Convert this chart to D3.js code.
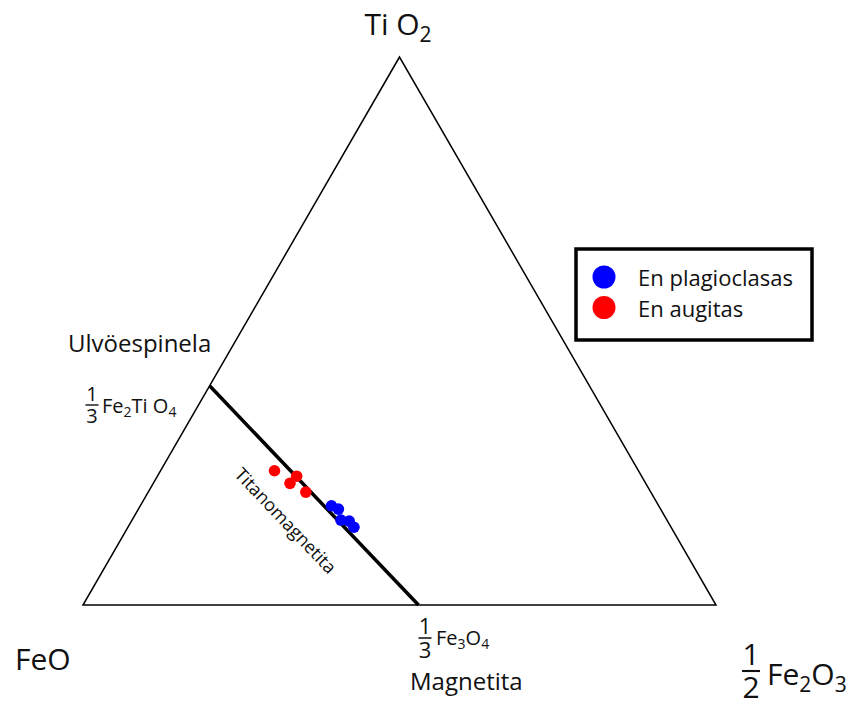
<!DOCTYPE html>
<html>
<head>
<meta charset="utf-8">
<script src="https://cdn.jsdelivr.net/npm/d3@7"></script>
<style>
	body { margin: 0; background: #fff; }
	text { font-family: "Open Sans", sans-serif; fill: #111; }
</style>
</head>
<body>
<svg id="chart" width="857" height="702"></svg>
<script>
// ternary compositions in percent (TiO2, FeO, 1/2 Fe2O3)
const plagTiO2  = [18.1, 17.5, 15.5, 15.3, 14.2];
const plagFeO   = [51.7, 50.9, 51.5, 50.3, 50.1];
const plagFe2O3 = [30.2, 31.6, 33.0, 34.4, 35.7];

const augTiO2  = [24.5, 23.5, 22.2, 20.6];
const augFeO   = [57.5, 54.5, 56.2, 54.5];
const augFe2O3 = [18.0, 22.0, 21.6, 24.9];

// end members of the titanomagnetite join
const joinNames = ["Ulvöespinela", "Magnetita"];
const joinTiO2  = [40, 0];
const joinFeO   = [60, 47];
const joinFe2O3 = [0, 53];

const seriesNames = ["En plagioclasas", "En augitas"];
const seriesColors = ["#0000ff", "#ff0000"];

const svg = d3.select("#chart");

// horizontal position grows with Fe2O3 (plus half TiO2), vertical with TiO2
const xs = d3.scaleLinear().domain([0, 100]).range([83, 716]);
const ys = d3.scaleLinear().domain([0, 100]).range([605, 57]);

function project(ti, fe2) {
	return [xs(fe2 + ti / 2), ys(ti)];
}

// triangle outline
const corners = [project(100, 0), project(0, 0), project(0, 100)];
svg.append("path")
	.attr("d", d3.line()(corners) + "Z")
	.attr("fill", "none")
	.attr("stroke", "#000")
	.attr("stroke-width", 1.5);

// titanomagnetite join
const joinPts = joinTiO2.map((t, i) => project(t, joinFe2O3[i]));
svg.append("path")
	.attr("d", d3.line()(joinPts))
	.attr("stroke", "#000")
	.attr("stroke-width", 3.5)
	.attr("fill", "none");

const dx = joinPts[1][0] - joinPts[0][0];
const dy = joinPts[1][1] - joinPts[0][1];
const ang = Math.atan2(dy, dx) * 180 / Math.PI;
const len = Math.hypot(dx, dy);
const mid = [(joinPts[0][0] + joinPts[1][0]) / 2, (joinPts[0][1] + joinPts[1][1]) / 2];
const off = 36;
svg.append("text")
	.attr("transform", `translate(${mid[0] - dy / len * off - 2},${mid[1] + dx / len * off})` + ` rotate(${ang})`)
	.attr("text-anchor", "middle")
	.attr("dominant-baseline", "central")
	.style("font-size", "18px")
	.text("Titanomagnetita");

// data points
const series = [
	plagTiO2.map((t, i) => ({ ti: t, fe: plagFeO[i], fe2: plagFe2O3[i] })),
	augTiO2.map((t, i) => ({ ti: t, fe: augFeO[i], fe2: augFe2O3[i] }))
];
series.forEach((pts, s) => {
	svg.append("g").selectAll("circle")
		.data(pts)
		.join("circle")
		.attr("cx", d => project(d.ti, d.fe2)[0])
		.attr("cy", d => project(d.ti, d.fe2)[1])
		.attr("r", 5.8)
		.attr("fill", seriesColors[s]);
});

// chemical formula with subscripts
function formula(x, y, parts, size, anchor) {
	const t = svg.append("text")
		.attr("x", x).attr("y", y)
		.attr("text-anchor", anchor || "start")
		.style("font-size", size + "px");
	let down = false;
	parts.forEach(p => {
		const isSub = /^[0-9]$/.test(p);
		const ts = t.append("tspan").text(p);
		if (isSub && !down) { ts.attr("dy", size * 0.22).style("font-size", (size * 0.7) + "px"); down = true; }
		else if (!isSub && down) { ts.attr("dy", -size * 0.22); down = false; }
	});
	return t;
}

function fraction(cx, yBar, num, den, size, w) {
	svg.append("text").attr("x", cx).attr("y", yBar - size * 0.2)
		.attr("text-anchor", "middle").style("font-size", size + "px").text(num);
	svg.append("text").attr("x", cx).attr("y", yBar + size * 0.9)
		.attr("text-anchor", "middle").style("font-size", size + "px").text(den);
	svg.append("line")
		.attr("x1", cx - w / 2).attr("x2", cx + w / 2)
		.attr("y1", yBar).attr("y2", yBar)
		.attr("stroke", "#111").attr("stroke-width", size * 0.07);
}

// vertex labels
formula(398, 35, ["Ti O", "2"], 30, "middle");
svg.append("text").attr("x", 15).attr("y", 670).style("font-size", "30px").text("FeO");
fraction(751, 671, "1", "2", 30, 18);
formula(767, 685, ["Fe", "2", "O", "3"], 30);

// end member labels
svg.append("text").attr("x", 68).attr("y", 352).style("font-size", "24px").text(joinNames[0]);
fraction(92, 405, "1", "3", 20, 13);
formula(102, 413, ["Fe", "2", "Ti O", "4"], 20);

fraction(425, 638, "1", "3", 22, 13);
formula(436, 645, ["Fe", "3", "O", "4"], 20);
svg.append("text").attr("x", 410).attr("y", 690).style("font-size", "24px").text(joinNames[1]);

// legend
svg.append("rect")
	.attr("x", 576).attr("y", 249).attr("width", 236).attr("height", 91)
	.attr("fill", "#fff").attr("stroke", "#000").attr("stroke-width", 3.5);
const leg = svg.append("g").selectAll("g")
	.data(seriesNames)
	.join("g")
	.attr("transform", (d, i) => `translate(604,${277 + i * 30.5})`);
leg.append("circle").attr("r", 11.5).attr("fill", (d, i) => seriesColors[i]);
leg.append("text").attr("x", 34).attr("y", 9).style("font-size", "22px").text(d => d);
</script>
</body>
</html>
